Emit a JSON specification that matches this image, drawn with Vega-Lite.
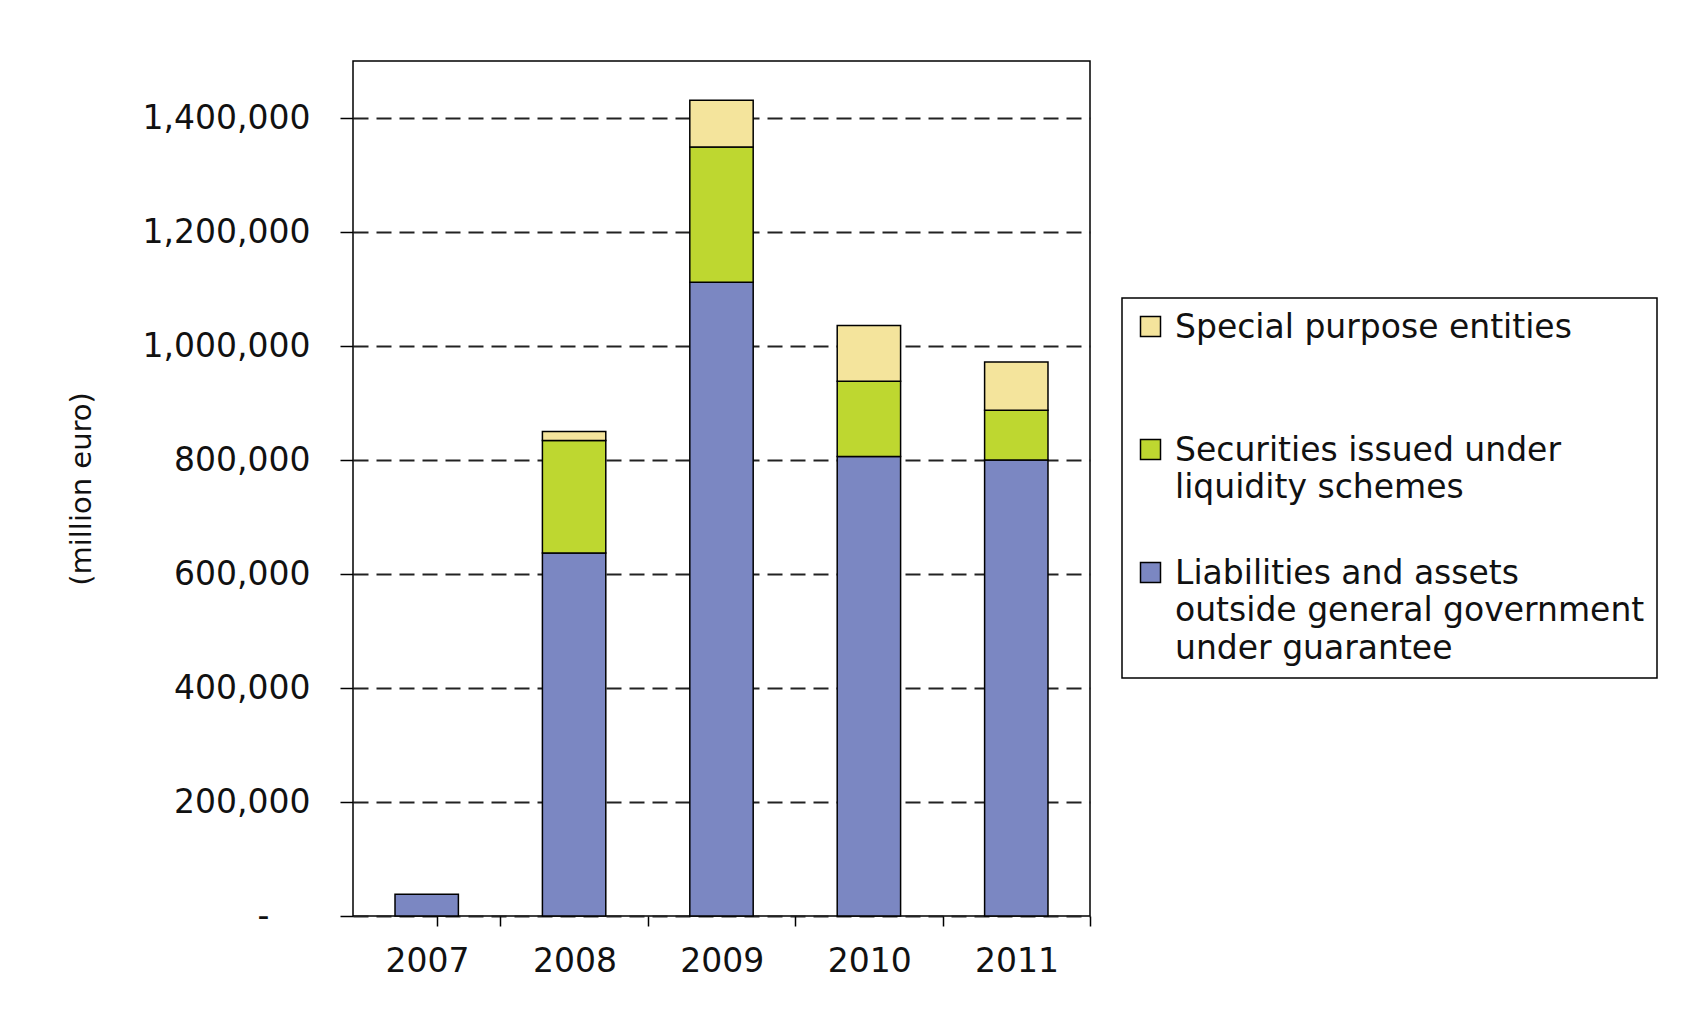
{
  "$schema": "https://vega.github.io/schema/vega-lite/v6.json",
  "width": 737,
  "height": 855,
  "autosize": {"type": "none"},
  "padding": {"left": 353, "top": 61, "right": 599, "bottom": 96},
  "background": "white",
  "data": {
    "values": [
      {"year": "2007", "series": "Liabilities and assets outside general government under guarantee", "ord": 1, "value": 38000},
      {"year": "2008", "series": "Liabilities and assets outside general government under guarantee", "ord": 1, "value": 637000},
      {"year": "2008", "series": "Securities issued under liquidity schemes", "ord": 2, "value": 197000},
      {"year": "2008", "series": "Special purpose entities", "ord": 3, "value": 16000},
      {"year": "2009", "series": "Liabilities and assets outside general government under guarantee", "ord": 1, "value": 1112000},
      {"year": "2009", "series": "Securities issued under liquidity schemes", "ord": 2, "value": 237000},
      {"year": "2009", "series": "Special purpose entities", "ord": 3, "value": 82000},
      {"year": "2010", "series": "Liabilities and assets outside general government under guarantee", "ord": 1, "value": 806000},
      {"year": "2010", "series": "Securities issued under liquidity schemes", "ord": 2, "value": 132000},
      {"year": "2010", "series": "Special purpose entities", "ord": 3, "value": 98000},
      {"year": "2011", "series": "Liabilities and assets outside general government under guarantee", "ord": 1, "value": 800000},
      {"year": "2011", "series": "Securities issued under liquidity schemes", "ord": 2, "value": 87500},
      {"year": "2011", "series": "Special purpose entities", "ord": 3, "value": 84500}
    ]
  },
  "mark": {"type": "bar", "stroke": "black", "strokeWidth": 1.5},
  "encoding": {
    "x": {
      "field": "year",
      "type": "ordinal",
      "scale": {"paddingInner": 0.57, "paddingOuter": 0.285},
      "axis": {
        "title": null,
        "domain": false,
        "grid": false,
        "labelAngle": 0,
        "ticks": true,
        "tickSize": 10,
        "tickColor": "black",
        "tickWidth": 1.5,
        "bandPosition": 1,
        "tickExtra": true,
        "tickOffset": 42,
        "labelOffset": -41.7,
        "labelPadding": 19,
        "labelFontSize": 33,
        "labelColor": "#111",
        "labelFont": "DejaVu Sans"
      }
    },
    "y": {
      "field": "value",
      "type": "quantitative",
      "stack": "zero",
      "scale": {"domain": [0, 1500000], "nice": false},
      "axis": {
        "values": [0, 200000, 400000, 600000, 800000, 1000000, 1200000, 1400000],
        "domain": false,
        "grid": true,
        "gridColor": "#222222",
        "gridDash": [15, 8],
        "gridWidth": 2,
        "tickSize": 13,
        "tickColor": "black",
        "tickWidth": 1.5,
        "labelPadding": {"condition": {"test": "datum.value == 0", "value": 71}, "value": 30},
        "labelFontSize": 33,
        "labelColor": "#111",
        "labelFont": "DejaVu Sans",
        "labelExpr": "datum.value == 0 ? '-' : format(datum.value, ',')",
        "title": "(million euro)",
        "titleFont": "DejaVu Sans",
        "titleFontSize": 29,
        "titleFontWeight": "normal",
        "titleColor": "#111",
        "titleAngle": -90,
        "titleX": -272,
        "titleY": 427.5,
        "titleAlign": "center",
        "titleBaseline": "middle"
      }
    },
    "color": {
      "field": "series",
      "type": "nominal",
      "scale": {
        "domain": ["Special purpose entities", "Securities issued under liquidity schemes", "Liabilities and assets outside general government under guarantee"],
        "range": ["#f4e49c", "#bed730", "#7b87c2"]
      },
      "legend": {
        "orient": "none",
        "legendX": 769,
        "legendY": 237,
        "title": null,
        "strokeColor": "black",
        "fillColor": "white",
        "padding": 12,
        "symbolType": "square",
        "symbolSize": 400,
        "symbolStrokeColor": "black",
        "symbolStrokeWidth": 1.5,
        "symbolOpacity": 1,
        "labelFont": "DejaVu Sans",
        "labelFontSize": 33,
        "labelColor": "#111",
        "labelBaseline": "top",
        "labelOffset": 8,
        "labelLimit": 0,
        "rowPadding": 13,
        "labelExpr": "datum.label == 'Special purpose entities' ? ['Special purpose entities', ' ', ' '] : datum.label == 'Securities issued under liquidity schemes' ? ['Securities issued under', 'liquidity schemes', ' '] : ['Liabilities and assets', 'outside general government', 'under guarantee']",
        "encode": {
          "labels": {"update": {"dy": {"value": -15}, "lineHeight": {"value": 37.5}}},
          "legend": {"update": {"strokeWidth": {"value": 1.5}}}
        }
      }
    },
    "order": {"field": "ord", "type": "quantitative"}
  },
  "config": {
    "view": {"stroke": "black", "strokeWidth": 1.5},
    "font": "DejaVu Sans"
  }
}
